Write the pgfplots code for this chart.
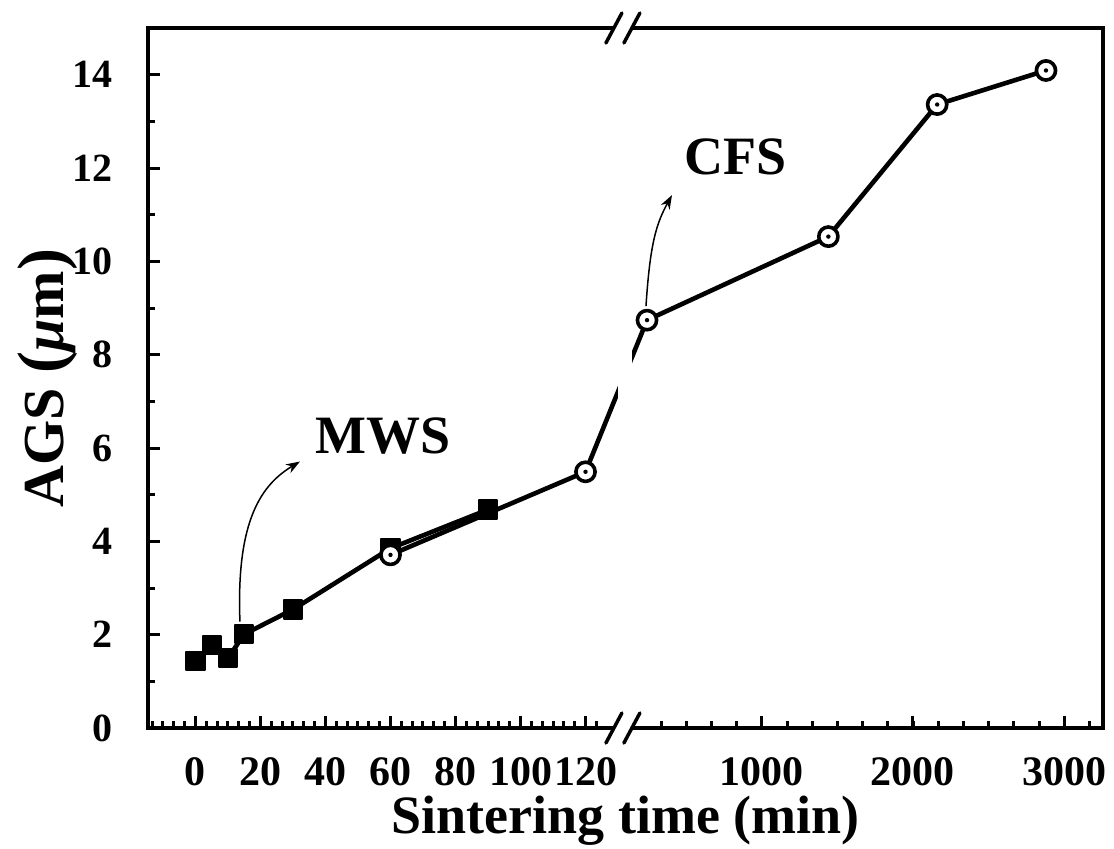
\documentclass[border=0pt]{standalone}
\usepackage{pgfplots}
\pgfplotsset{compat=1.18}
\usepackage{pgfplotstable}
\usepackage{fontspec}
\setmainfont{Liberation Serif}
\usetikzlibrary{arrows.meta}

% open circle with a centre dot
\pgfdeclareplotmark{dotcircle}{%
  \pgfsetfillcolor{white}%
  \pgfpathcircle{\pgfpointorigin}{\pgfplotmarksize}%
  \pgfusepathqfillstroke
  \pgfsetfillcolor{black}%
  \pgfpathcircle{\pgfpointorigin}{1.1pt}%
  \pgfusepathqfill
}

% microwave sintering
\pgfplotstableread{
t    AGS
0    1.43
5    1.78
10   1.50
15   2.01
30   2.54
60   3.85
90   4.68
}\mws

% conventional furnace sintering
\pgfplotstableread{
t    AGS
60   3.71
120  5.49
240  8.74
1440 10.53
2160 13.36
2880 14.09
}\cfs

% broken time axis: linear up to the break, compressed beyond it
\newcommand{\brk}[1]{(#1<=131 ? #1 : 138.92+(#1-240)*0.04649)}

\begin{document}
\begin{tikzpicture}
\begin{axis}[
  scale only axis,
  width=477.5pt, height=350pt,
  xmin=-14.6, xmax=279.2, ymin=0, ymax=15,
  axis line style={line width=2pt},
  every tick/.style={black, line width=1.5pt},
  major tick length=6pt, minor tick length=3.5pt,
  tick align=inside,
  xtick pos=bottom, ytick pos=left,
  xtick={0,20,40,60,80,100,120,174.25,220.74,267.23},
  xticklabels={0,20,40,60,80,100,120,1000,2000,3000},
  minor xtick={-13.3333,-10,...,124,143.26,151.01,...,276},
  ytick={0,2,...,14},
  minor ytick={1,3,...,13},
  /pgf/number format/assume math mode=true,
  xticklabel style={font=\bfseries\fontsize{21}{24}\selectfont,
    anchor=base, yshift=-28.5pt},
  yticklabel style={font=\bfseries\fontsize{20}{24}\selectfont,
    anchor=east, inner sep=0pt, xshift=-17.5pt},
  xlabel={Sintering time (min)},
  ylabel={AGS {\fontsize{33}{36}\selectfont(}\textit{μ}m{\fontsize{33}{36}\selectfont)}},
  xlabel style={font=\bfseries\fontsize{27}{32}\selectfont,
    at={(axis description cs:0.5,-0.1514)}, anchor=base},
  ylabel style={font=\bfseries\fontsize{29}{32}\selectfont,
    at={(axis description cs:-0.1055,0.5)}, anchor=center},
  clip=false,
]
\addplot[black, line width=2.3pt, line join=round, mark=square*,
  mark options={solid, line width=1pt, mark size=4.6pt}]
  table[x expr={\brk{\thisrow{t}}}, y=AGS] {\mws};
\addplot[black, line width=2.3pt, line join=round, mark=dotcircle,
  mark options={solid, line width=1.8pt, mark size=4.8pt}]
  table[x expr={\brk{\thisrow{t}}}, y=AGS] {\cfs};

\coordinate (sw) at (rel axis cs:0,0);
\coordinate (ne) at (rel axis cs:1,1);
\coordinate (bb) at (axis cs:131.5,0);
\coordinate (bt) at (axis cs:131.5,15);
\coordinate (g1) at (axis cs:130.0,6.9);
\coordinate (g2) at (axis cs:134.3,8.3);

\coordinate (m0) at (axis cs:13.69,2.28);
\coordinate (m1) at (axis cs:12.46,4.47);
\coordinate (m2) at (axis cs:20.46,5.22);
\coordinate (m3) at (axis cs:32.15,5.71);
\coordinate (c0) at (axis cs:138.6,9.04);
\coordinate (c1) at (axis cs:139.85,10.37);
\coordinate (c2) at (axis cs:141.7,10.80);
\coordinate (c3) at (axis cs:146.6,11.42);

\node[font=\bfseries\fontsize{27}{32}\selectfont] at (axis cs:57.8,6.25) {MWS};
\node[font=\bfseries\fontsize{27}{32}\selectfont] at (axis cs:166,12.24) {CFS};
\end{axis}

% gap in the curve across the break
\fill[white] (g1) rectangle (g2);

% break marks on the bottom and top axis lines
\foreach \p in {bb,bt}{
  \draw[white, line width=5pt] ([xshift=-4.5pt]\p) -- ([xshift=4.5pt]\p);
  \draw[black, line width=1.75pt, line cap=round]
    ([xshift=-8.5pt,yshift=-7.5pt]\p) -- ([xshift=-0.5pt,yshift=7.5pt]\p);
  \draw[black, line width=1.75pt, line cap=round]
    ([xshift=0.5pt,yshift=-7.5pt]\p) -- ([xshift=8.5pt,yshift=7.5pt]\p);
}

% pointers to the two series
\draw[line width=0.75pt, -{Stealth[length=7pt,width=5pt]}]
  (m0) .. controls (m1) and (m2) .. (m3);
\draw[line width=0.75pt, -{Stealth[length=7pt,width=5pt]}]
  (c0) .. controls (c1) and (c2) .. (c3);

\pgfresetboundingbox
\path ([xshift=-74pt,yshift=-60pt]sw) rectangle ([xshift=5.5pt,yshift=14pt]ne);
\end{tikzpicture}
\end{document}
